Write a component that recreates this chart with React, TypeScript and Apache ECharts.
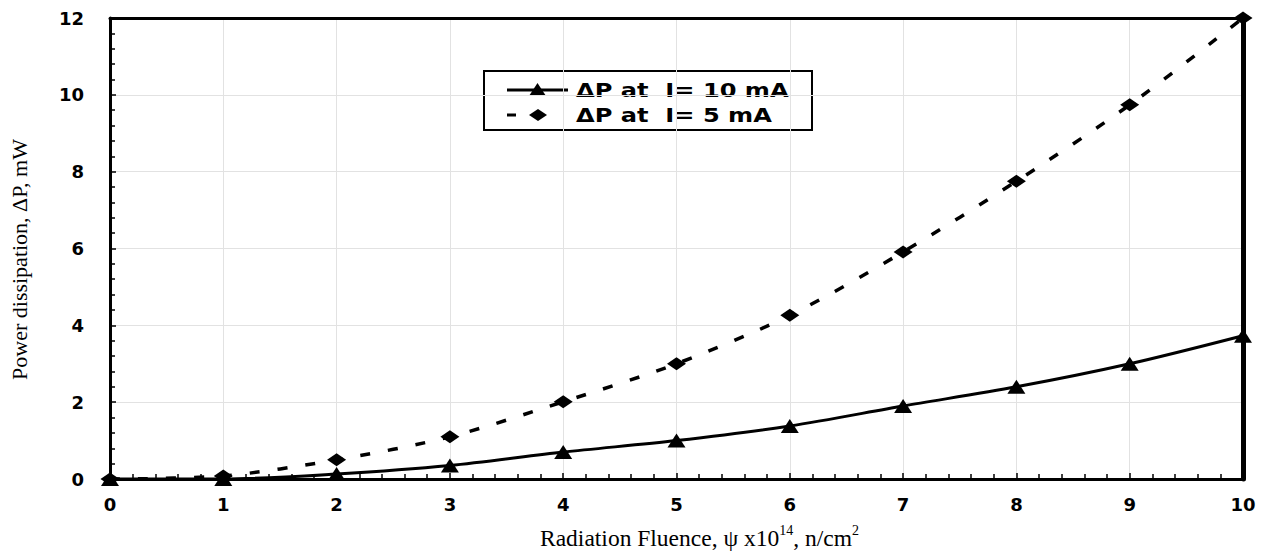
import React, { useEffect, useRef } from "react";
import * as echarts from "echarts";

const xValues = [0, 1, 2, 3, 4, 5, 6, 7, 8, 9, 10];
const seriesI10 = [0, 0, 0.13, 0.35, 0.7, 1.0, 1.38, 1.9, 2.4, 3.0, 3.73];
const seriesI5 = [0, 0.08, 0.5, 1.1, 2.01, 3.0, 4.26, 5.91, 7.75, 9.74, 12.0];
const legendNames = ["\u0394P at  I= 10 mA", "\u0394P at  I= 5 mA"];
const yTitle = "Power dissipation, \u0394P, mW";

const BOLD = "'DejaVu Sans', sans-serif";
const SERIF = "'Liberation Serif', 'Times New Roman', serif";

export default function App() {
  const ref = useRef<HTMLDivElement>(null);
  useEffect(() => {
    if (!ref.current) return;
    const chart = echarts.init(ref.current, null, { renderer: "svg" });
    const pairs = (ys: number[]) => xValues.map((x, i) => [x, ys[i]]);
    const axisLabel = { color: "#000", fontFamily: BOLD, fontWeight: "bold", fontSize: 18 };
    chart.setOption({
      animation: false,
      backgroundColor: "#fff",
      grid: { left: 110, right: 27, top: 18, bottom: 74, containLabel: false },
      xAxis: [
        {
          type: "value",
          min: 0,
          max: 10,
          interval: 1,
          position: "bottom",
          axisLine: { show: true, onZero: false, lineStyle: { color: "#000", width: 3 } },
          axisTick: { show: true, inside: true, length: 6, lineStyle: { color: "#000", width: 1.5 } },
          minorTick: { show: true, splitNumber: 5, length: 5, lineStyle: { color: "#000", width: 1.5 } },
          splitLine: { show: true, lineStyle: { color: "#e2e2e2", width: 1 } },
          axisLabel: { ...axisLabel, margin: 16 },
          name: "{n|Radiation Fluence, \u03c8 x10}{s|14}{n|, n/cm}{s|2}",
          nameLocation: "middle",
          nameGap: 44,
          nameTextStyle: {
            color: "#000",
            padding: [0, 0, 0, 46],
            rich: {
              n: { fontFamily: SERIF, fontSize: 23.5, color: "#000", lineHeight: 27, verticalAlign: "bottom" },
              s: { fontFamily: SERIF, fontSize: 14, color: "#000", lineHeight: 27, verticalAlign: "top" },
            },
          },
        },
        {
          type: "value",
          min: 0,
          max: 10,
          interval: 1,
          position: "top",
          axisLine: { show: true, onZero: false, lineStyle: { color: "#000", width: 3 } },
          axisTick: { show: false },
          axisLabel: { show: false },
          splitLine: { show: false },
        },
      ],
      yAxis: [
        {
          type: "value",
          min: 0,
          max: 12,
          interval: 2,
          position: "left",
          axisLine: { show: true, onZero: false, lineStyle: { color: "#000", width: 3 } },
          axisTick: { show: true, inside: true, length: 6, lineStyle: { color: "#000", width: 1.5 } },
          minorTick: { show: true, splitNumber: 5, length: 5, lineStyle: { color: "#000", width: 1.5 } },
          splitLine: { show: true, lineStyle: { color: "#e2e2e2", width: 1 } },
          axisLabel: { ...axisLabel, margin: 26 },
          name: yTitle,
          nameLocation: "middle",
          nameGap: 80,
          nameTextStyle: { color: "#000", fontFamily: SERIF, fontSize: 22, padding: [0, 22, 0, 0] },
        },
        {
          type: "value",
          min: 0,
          max: 12,
          interval: 2,
          position: "right",
          axisLine: { show: true, onZero: false, lineStyle: { color: "#000", width: 5 } },
          axisTick: { show: false },
          axisLabel: { show: false },
          splitLine: { show: false },
        },
      ],
      series: [
        {
          name: legendNames[0],
          type: "line",
          data: pairs(seriesI10),
          smooth: 0.3,
          clip: false,
          symbol: "triangle",
          symbolSize: [18, 14],
          itemStyle: { color: "#000" },
          lineStyle: { color: "#000", width: 3 },
          z: 5,
        },
        {
          name: legendNames[1],
          type: "line",
          data: pairs(seriesI5),
          smooth: 0.3,
          clip: false,
          symbol: "diamond",
          symbolSize: [19, 13],
          itemStyle: { color: "#000" },
          lineStyle: { color: "#000", width: 3.5, type: [10, 18] },
          z: 5,
        },
      ],
      graphic: [
        {
          type: "group",
          z: 100,
          children: [
            {
              type: "rect",
              shape: { x: 484, y: 71, width: 328, height: 59 },
              style: { fill: "#fff", stroke: "#000", lineWidth: 2 },
            },
            {
              type: "line",
              shape: { x1: 507, y1: 90, x2: 568, y2: 90 },
              style: { stroke: "#000", lineWidth: 3 },
            },
            {
              type: "polygon",
              shape: { points: [[529, 96], [546, 96], [537.5, 83]] },
              style: { fill: "#000" },
            },
            {
              type: "text",
              x: 576,
              y: 90,
              scaleX: 1.27,
              originX: 0,
              originY: 0,
              style: {
                text: legendNames[0],
                fill: "#000",
                font: "bold 19px " + BOLD,
                verticalAlign: "middle",
                align: "left",
              },
            },
            {
              type: "line",
              shape: { x1: 507, y1: 115, x2: 516, y2: 115 },
              style: { stroke: "#000", lineWidth: 3 },
            },
            {
              type: "polygon",
              shape: { points: [[529, 115], [538, 109], [547, 115], [538, 121]] },
              style: { fill: "#000" },
            },
            {
              type: "text",
              x: 576,
              y: 115,
              scaleX: 1.27,
              originX: 0,
              originY: 0,
              style: {
                text: legendNames[1],
                fill: "#000",
                font: "bold 19px " + BOLD,
                verticalAlign: "middle",
                align: "left",
              },
            },
          ],
        },
      ],
    });
    return () => chart.dispose();
  }, []);
  return (
    <div
      ref={ref}
      style={{ position: "absolute", left: 0, top: 0, width: 1270, height: 555, background: "#fff" }}
    />
  );
}
